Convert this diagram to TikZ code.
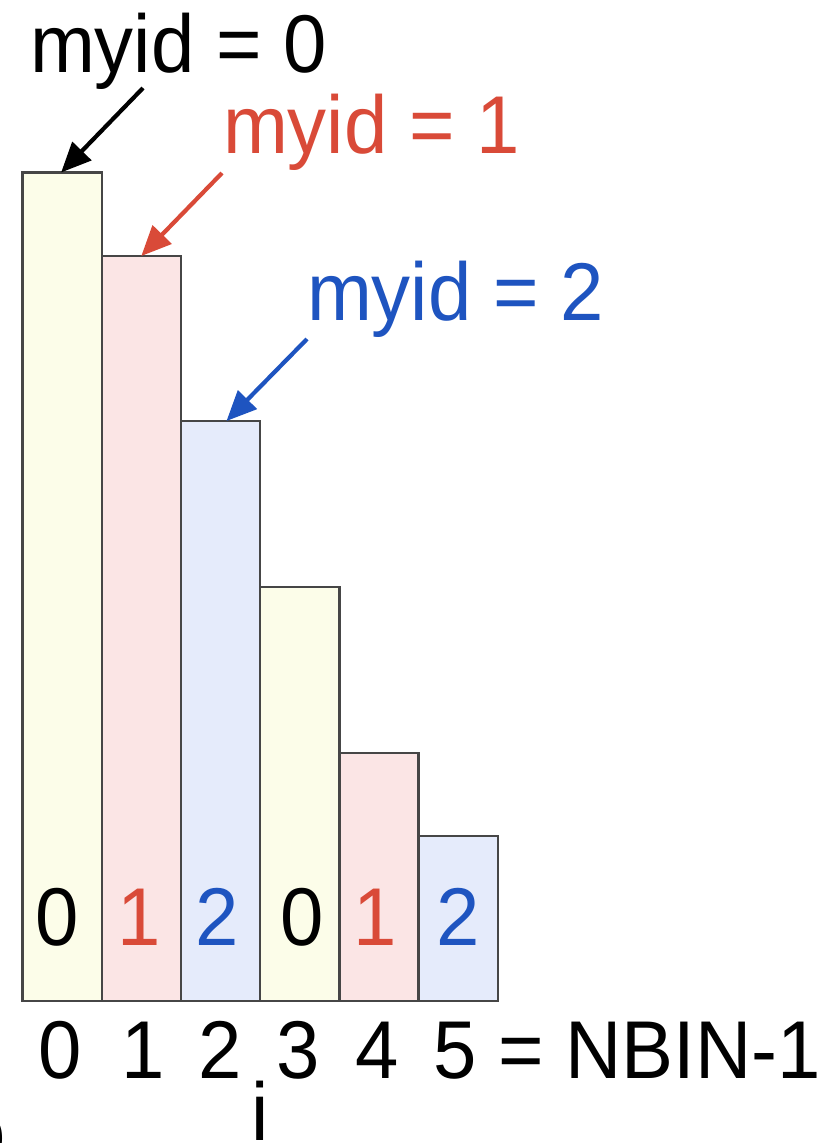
\documentclass[tikz,border=0pt]{standalone}
\usepackage{fontspec}
\setmainfont{Liberation Sans}[FakeStretch=0.95]
\usetikzlibrary{arrows.meta,calc}
\definecolor{mred}{RGB}{217,74,56}
\definecolor{mblue}{RGB}{30,84,192}
\definecolor{fyel}{RGB}{252,253,233}
\definecolor{fpink}{RGB}{251,229,229}
\definecolor{fblue}{RGB}{229,235,251}
\definecolor{edge}{RGB}{70,70,70}
\begin{document}
\begin{tikzpicture}[x=1pt,y=-1pt,
  bar/.style={draw=edge,line width=2.4pt,anchor=south west,minimum width=79.2pt,inner sep=0pt,outer sep=0pt},
  txt/.style={inner sep=0pt,outer sep=0pt,font=\fontsize{82}{98}\selectfont},
  lbl/.style={txt,anchor=base west},
  dig/.style={txt,anchor=base},
  arr/.style={line width=4.2pt,-{Triangle[length=30pt,width=26pt]}}]
\path[use as bounding box,clip] (0,0) rectangle (834,1143);
\fill[white] (0,0) rectangle (834,1143);
% bars
\node[bar,fill=fyel, minimum height=828.5pt] (b0) at (22.5,1001) {};
\node[bar,fill=fpink,minimum height=745pt]   (b1) at (101.7,1001) {};
\node[bar,fill=fblue,minimum height=580pt]   (b2) at (180.9,1001) {};
\node[bar,fill=fyel, minimum height=414pt]   (b3) at (260.1,1001) {};
\node[bar,fill=fpink,minimum height=248pt]   (b4) at (339.3,1001) {};
\node[bar,fill=fblue,minimum height=165pt]   (b5) at (418.5,1001) {};
% digits in bars
\node[dig] (d0) at (57,945) {0};
\node[dig,text=mred] (d1) at (139.5,945) {1};
\node[dig,text=mblue] (d2) at (217.5,945) {2};
\node[dig] (d3) at (302.5,945) {0};
\node[dig,text=mred] (d4) at (375.5,945) {1};
\node[dig,text=mblue] (d5) at (458.5,945) {2};
% axis
\node[dig] (a0) at (60,1078) {0};
\node[dig] (a1) at (143.5,1078) {1};
\node[dig] (a2) at (220,1078) {2};
\node[dig] (a3) at (298.5,1078) {3};
\node[dig] (a4) at (377.5,1078) {4};
\node[dig] (a5) at (455,1078) {5};
\node[lbl] (nbin) at (498.4,1078) {= NBIN-1};
\node[lbl] (ivar) at (251,1140) {i};
\node[lbl] (cut) at (-37,1160) {o};
% labels
\node[lbl] (L0) at (30,72) {myid = 0};
\node[lbl,text=mred] (L1) at (223,153) {myid = 1};
\node[lbl,text=mblue] (L2) at (307,320) {myid = 2};
% arrows
\coordinate (s0) at (143,88);
\coordinate (s1) at (222,173);
\coordinate (s2) at (307,339);
\draw[arr] (s0) -- ($(b0.north)+(-1,0)$);
\draw[arr,mred] (s1) -- (b1.north);
\draw[arr,mblue] (s2) -- ($(b2.north)+(6,0)$);
\end{tikzpicture}
\end{document}
